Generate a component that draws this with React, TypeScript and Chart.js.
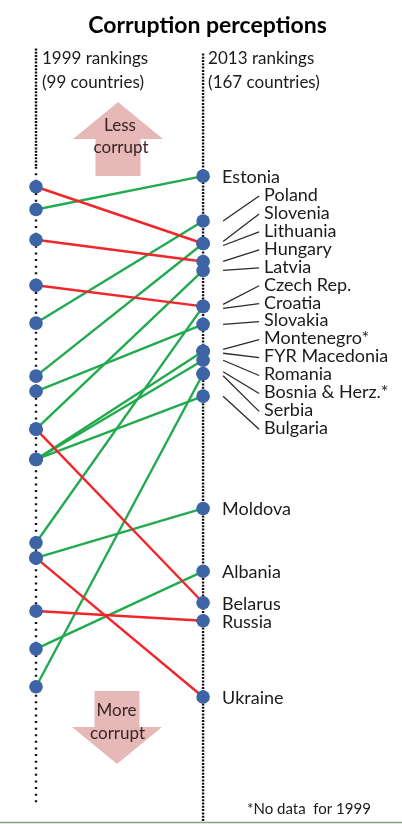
import { useEffect, useRef } from "react";
import { Chart, registerables } from "chart.js";

Chart.register(...registerables);

const FONT = "Lato, 'Open Sans', sans-serif";

// size of the field in each year
const FIELD_1999 = 99;
const FIELD_2013 = 167;

// rank within the field (1 = least corrupt); null = not ranked in 1999
const countries = [
  "Slovenia", "Estonia", "Hungary", "Czech Rep.", "Poland", "Lithuania",
  "Slovakia", "Latvia", "Belarus", "Bulgaria", "Romania", "FYR Macedonia",
  "Croatia", "Moldova", "Ukraine", "Russia", "Albania", "Serbia",
  "Montenegro*", "Bosnia & Herz.*",
];
const rank1999: (number | null)[] = [
  18, 21, 25, 31, 36, 43, 45, 50, 50, 54, 54, 54, 65, 67, 67, 74, 79, 84, null, null,
];
const rank2013 = [
  43, 28, 47, 57, 38, 43, 61, 49, 123, 77, 69, 67, 57, 102, 144, 127, 116, 72, 67, 72,
];

// labels on the right: crowded ones get leader lines, the rest sit beside their dot
const stackedLabels = [
  "Poland", "Slovenia", "Lithuania", "Hungary", "Latvia", "Czech Rep.", "Croatia",
  "Slovakia", "Montenegro*", "FYR Macedonia", "Romania", "Bosnia & Herz.*", "Serbia", "Bulgaria",
];
const directLabels = ["Estonia", "Moldova", "Albania", "Belarus", "Russia", "Ukraine"];

const BLUE = "#3d64a6";
const GREEN = "#22aa4f";
const RED = "#f0262a";
const PINK = "#e6b9b8";
const TEXT = "#1b1b1b";

const pos1999 = (r: number) => r / FIELD_1999;
const pos2013 = (r: number) => r / FIELD_2013;

const slopeDecor = {
  id: "slopeDecor",
  beforeDatasetsDraw(chart: Chart) {
    const { ctx, chartArea } = chart;
    const xs = chart.scales.x;
    const ys = chart.scales.y;
    const xl = xs.getPixelForValue(0);
    const xr = xs.getPixelForValue(1);
    const seg = (x1: number, y1: number, x2: number, y2: number) => {
      ctx.beginPath();
      ctx.moveTo(x1, y1);
      ctx.lineTo(x2, y2);
      ctx.stroke();
    };
    ctx.save();
    // dotted rank axes
    ctx.strokeStyle = "#111";
    ctx.lineWidth = 2.4;
    ctx.lineCap = "butt";
    ctx.setLineDash([2, 1.3]);
    seg(xl, chartArea.top - 2, xl, ys.getPixelForValue(0.155));
    seg(xr, chartArea.top + 3, xr, chart.height - 2);
    ctx.setLineDash([2, 4.6]);
    seg(xl, ys.getPixelForValue(0.155), xl, ys.getPixelForValue(1.006));
    ctx.setLineDash([]);

    // big pink arrows
    const arrow = (cx: number, yEnd: number, yNeck: number, yTip: number) => {
      ctx.beginPath();
      ctx.moveTo(cx - 22.5, yEnd);
      ctx.lineTo(cx - 22.5, yNeck);
      ctx.lineTo(cx - 45, yNeck);
      ctx.lineTo(cx, yTip);
      ctx.lineTo(cx + 45, yNeck);
      ctx.lineTo(cx + 22.5, yNeck);
      ctx.lineTo(cx + 22.5, yEnd);
      ctx.closePath();
      ctx.fill();
    };
    ctx.fillStyle = PINK;
    arrow(xl + 82, 176, 139, 102);
    arrow(xl + 81, 691, 727, 764);

    // bottom rule
    ctx.strokeStyle = "#8a9a8a";
    ctx.lineWidth = 1.5;
    seg(0, 822.5, chart.width, 822.5);
    ctx.restore();
  },
  afterDatasetsDraw(chart: Chart) {
    const { ctx } = chart;
    const xs = chart.scales.x;
    const ys = chart.scales.y;
    const xl = xs.getPixelForValue(0);
    const xr = xs.getPixelForValue(1);
    const yOf = (name: string) => ys.getPixelForValue(pos2013(rank2013[countries.indexOf(name)]));
    ctx.save();
    ctx.fillStyle = TEXT;
    ctx.textBaseline = "middle";
    ctx.textAlign = "left";

    ctx.font = `17px ${FONT}`;
    ctx.fillText("1999 rankings", xl + 6, 59);
    ctx.fillText("(99 countries)", xl + 6, 82.5);
    ctx.fillText("2013 rankings", xr + 5, 59);
    ctx.fillText("(167 countries)", xr + 5, 82.5);

    ctx.textAlign = "center";
    ctx.fillStyle = "#3a2424";
    ctx.fillText("Less", xl + 84, 126);
    ctx.fillText("corrupt", xl + 85, 148);
    ctx.fillText("More", xl + 80.5, 711);
    ctx.fillText("corrupt", xl + 81.5, 734);

    ctx.textAlign = "left";
    ctx.fillStyle = TEXT;
    ctx.font = `18px ${FONT}`;
    directLabels.forEach((name) => {
      ctx.fillText(name, xr + 19, yOf(name) + 1);
    });

    ctx.strokeStyle = "#2a2a2a";
    ctx.lineWidth = 1.3;
    stackedLabels.forEach((name, i) => {
      const ly = 195 + i * 17.95;
      const r = rank2013[countries.indexOf(name)];
      const tied = stackedLabels.filter((n) => rank2013[countries.indexOf(n)] === r);
      const k = tied.indexOf(name);
      const off = (k - (tied.length - 1) / 2) * 4;
      ctx.beginPath();
      ctx.moveTo(xr + 20, yOf(name) + off);
      ctx.lineTo(xr + 56, ly + 1);
      ctx.stroke();
      ctx.fillText(name, xr + 61, ly);
    });

    ctx.font = `15px ${FONT}`;
    ctx.fillText("*No data  for 1999", xr + 44, 809);
    ctx.restore();
  },
};

export default function App() {
  const canvasRef = useRef<HTMLCanvasElement>(null);

  useEffect(() => {
    if (!canvasRef.current) return;

    const slopes = countries
      .map((name, i) => ({ name, r99: rank1999[i], r13: rank2013[i] }))
      .filter((c) => c.r99 !== null)
      .map((c) => {
        const from = pos1999(c.r99 as number);
        const to = pos2013(c.r13);
        return {
          label: c.name,
          data: [
            { x: 0, y: from },
            { x: 1, y: to },
          ],
          showLine: true,
          borderColor: to < from ? GREEN : RED,
          borderWidth: 2.4,
          pointRadius: 0,
          order: 2,
        };
      });

    const left = rank1999
      .filter((r): r is number => r !== null)
      .map((r) => ({ x: 0, y: pos1999(r) }));
    const right = rank2013.map((r) => ({ x: 1, y: pos2013(r) }));

    const chart = new Chart(canvasRef.current, {
      type: "scatter",
      data: {
        datasets: [
          {
            label: "1999",
            data: left,
            pointRadius: 6.8,
            backgroundColor: BLUE,
            borderWidth: 0,
            order: 0,
          },
          {
            label: "2013",
            data: right,
            pointRadius: 6.8,
            backgroundColor: BLUE,
            borderWidth: 0,
            order: 0,
          },
          ...slopes,
        ],
      },
      options: {
        animation: false,
        responsive: true,
        maintainAspectRatio: false,
        events: [],
        layout: { padding: { left: 13 } },
        scales: {
          x: { type: "linear", min: -0.1377, max: 2.1497, display: false },
          y: { type: "linear", reverse: true, min: 0, max: 1.0225, display: false },
        },
        plugins: {
          legend: { display: false },
          tooltip: { enabled: false },
          title: {
            display: true,
            text: "Corruption perceptions",
            color: "#000",
            font: { family: FONT, size: 23, weight: "bold" },
            padding: { top: 12, bottom: 10.8 },
          },
        },
      },
      plugins: [slopeDecor],
    });

    return () => chart.destroy();
  }, []);

  return (
    <div style={{ position: "absolute", left: 0, top: 0, width: 402, height: 824, background: "#fff" }}>
      <canvas ref={canvasRef} />
    </div>
  );
}
